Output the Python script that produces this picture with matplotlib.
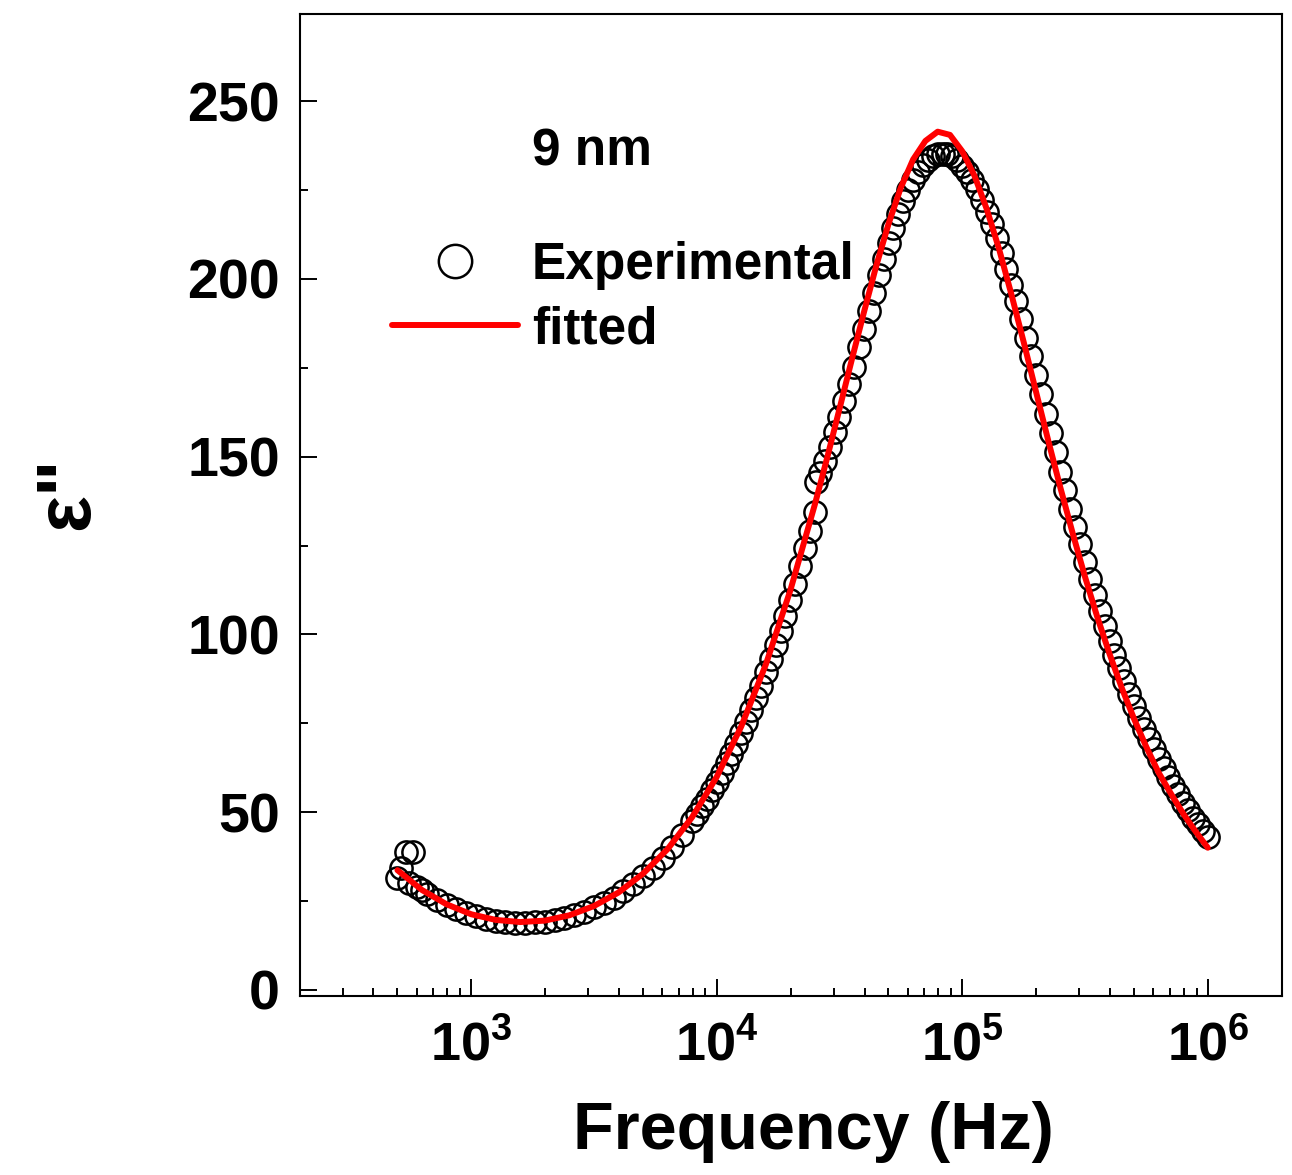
import numpy as np
import matplotlib
matplotlib.use("Agg")
import matplotlib.pyplot as plt
from matplotlib.ticker import FixedLocator, FuncFormatter, LogLocator, MultipleLocator, NullFormatter
from matplotlib.lines import Line2D

plt.rcParams['font.family'] = ['Liberation Sans', 'DejaVu Sans']
plt.rcParams['font.weight'] = 'bold'
plt.rcParams['mathtext.fontset'] = 'custom'
plt.rcParams['mathtext.rm'] = 'Liberation Sans:bold'
plt.rcParams['mathtext.bf'] = 'Liberation Sans:bold'
plt.rcParams['mathtext.it'] = 'Liberation Sans:bold:italic'

# ---------------- data ----------------
exp_freq = [501, 520, 541, 560, 582, 603, 631, 661, 724, 794, 871, 955, 1047, 1148,
            1259, 1380, 1514, 1660, 1820, 1995, 2188, 2399, 2630, 2884, 3162, 3467,
            3802, 4169, 4571, 5012, 5495, 6026, 6607, 7244, 7943, 8318, 8710, 9120,
            9550, 10000, 10471, 10965, 11482, 12023, 12589, 13183, 13804, 14454,
            15136, 15849, 16596, 17378, 18197, 19055, 19953, 20893, 21878, 22909,
            23988, 25119, 25410, 26303, 27542, 28840, 30200, 31623, 33113, 34674,
            36308, 38019, 39811, 41687, 43652, 45709, 47863, 50119, 52481, 54954,
            57544, 60256, 63096, 66069, 69183, 72444, 75858, 79433, 83176, 87096,
            91201, 95499, 100000, 104713, 109648, 114815, 120226, 125893, 131826,
            138038, 144544, 151356, 158489, 165959, 173780, 181970, 190546, 199526,
            208930, 218776, 229087, 239883, 251189, 263027, 275423, 288403, 301995,
            316228, 331131, 346737, 363078, 380189, 398107, 416869, 436516, 457088,
            478630, 501187, 524807, 549541, 575440, 602560, 630957, 660693, 691831,
            724436, 758578, 794328, 831764, 870964, 912011, 954993, 1000000]
exp_eps = [31.5, 34.2, 38.8, 30.2, 38.8, 29.0, 28.0, 27.1, 25.4, 24.0, 22.7, 21.6, 20.8, 20.0,
           19.5, 19.2, 18.9, 18.9, 19.0, 19.2, 19.6, 20.3, 21.0, 22.0, 23.2, 24.4,
           25.9, 27.7, 29.7, 32.0, 34.4, 37.2, 40.3, 43.7, 47.4, 49.4, 51.6, 53.8,
           56.1, 58.5, 61.0, 63.7, 66.4, 69.3, 72.3, 75.4, 78.7, 82.1,
           85.6, 89.3, 93.1, 97.0, 101.1, 105.3, 109.6, 114.1, 119.2, 124.4,
           129.0, 134.5, 143.0, 145.3, 148.9, 152.6, 156.9, 161.2, 165.6, 170.5,
           175.3, 180.7, 186.0, 191.1, 196.1, 201.0, 205.7, 210.2, 214.4, 218.3,
           221.8, 225.0, 227.8, 230.1, 232.1, 233.5, 234.5, 235.0, 235.1, 235.0,
           234.5, 233.4, 231.8, 230.0, 227.8, 225.2, 222.2, 218.9, 215.3,
           211.4, 207.3, 202.9, 198.4, 193.7, 188.7, 183.5, 178.3, 173.0,
           167.6, 162.1, 156.6, 151.2, 145.8, 140.5, 135.3, 130.2, 125.3,
           120.4, 115.7, 111.1, 106.7, 102.4, 98.2, 94.3, 90.5, 86.8,
           83.3, 79.9, 76.6, 73.5, 70.6, 67.7, 65.0, 62.3, 59.8,
           57.3, 55.0, 52.7, 50.6, 48.5, 46.6, 44.7, 43.0]

fit_freq = [501, 631, 794, 1000, 1259, 1585, 1995, 2512, 3162, 3981, 5012, 6310, 7943,
            10000, 12589, 15849, 19953, 25119, 28184, 31623, 35481, 39811, 44668,
            50119, 56234, 63096, 70795, 79433, 89125, 100000, 112202, 125893,
            141254, 158489, 177828, 199526, 223872, 251189, 281838, 316228,
            354813, 398107, 446684, 501187, 562341, 630957, 707946, 794328,
            891251, 1000000]
fit_eps = [33.7, 28.1, 24.1, 21.3, 19.7, 19.1, 19.5, 21.0, 23.6, 27.4, 32.7, 39.6, 48.6,
           59.9, 74.1, 91.5, 112.4, 136.6, 149.7, 163.4, 177.2, 190.7, 203.7,
           215.5, 225.7, 233.6, 238.8, 241.4, 240.5, 235.9, 229.0, 219.6,
           208.4, 195.7, 182.3, 168.4, 154.6, 141.2, 128.4, 116.2,
           104.9, 94.5, 84.9, 76.2, 68.3, 61.1, 55.2, 49.6,
           44.6, 40.0]

x_ticks = [1e3, 1e4, 1e5, 1e6]
legend_labels = ["Experimental", "fitted"]
annotation = "9 nm"
x_label = "Frequency (Hz)"
y_label = 'ε"'

# ---------------- figure ----------------
W, H = 1292, 1175
fig = plt.figure(figsize=(W / 100, H / 100), dpi=100)
L, R, T, B = 299.5, 1281.7, 14, 996
ax = fig.add_axes([L / W, 1 - B / H, (R - L) / W, (B - T) / H])

ax.plot(exp_freq, exp_eps, linestyle='none', marker='o', ms=16, mfc='none',
        mec='black', mew=1.8, zorder=2)
ax.plot(fit_freq, fit_eps, '-', color='#ff0000', lw=4.3, zorder=3,
        solid_capstyle='round', solid_joinstyle='round')

ax.set_xscale('log')
ax.set_xlim(200, 2e6)
ax.set_ylim(-1.7, 274.5)

ax.xaxis.set_major_locator(FixedLocator(x_ticks))
ax.xaxis.set_major_formatter(FuncFormatter(lambda v, p: r'$\mathbf{10^{%d}}$' % round(np.log10(v))))
ax.xaxis.set_minor_locator(LogLocator(base=10, subs=range(2, 10), numticks=20))
ax.xaxis.set_minor_formatter(NullFormatter())
ax.yaxis.set_major_locator(MultipleLocator(50))
ax.yaxis.set_minor_locator(MultipleLocator(25))

ax.tick_params(which='both', direction='in', top=False, right=False, width=1.4)
ax.tick_params(which='major', length=12)
ax.tick_params(which='minor', length=6)
ax.tick_params(axis='x', which='major', labelsize=39, pad=17)
ax.tick_params(axis='y', which='major', labelsize=40, pad=14)
for lab in ax.get_yticklabels():
    lab.set_fontweight('bold')
for sp in ax.spines.values():
    sp.set_linewidth(1.5)

fig.text(813 / W, 1 - 1132 / H, x_label, fontsize=48, fontweight='bold',
         ha='center', va='center')
fig.text(68 / W, 1 - 493 / H, y_label, fontsize=56, fontweight='bold',
         rotation=90, ha='center', va='center')
fig.text(532 / W, 1 - 152 / H, annotation, fontsize=37, fontweight='bold',
         ha='left', va='center')

handles = [Line2D([], [], linestyle='none', marker='o', ms=16, mfc='none', mec='black', mew=1.8),
           Line2D([], [], color='#ff0000', lw=4.3, solid_capstyle='round')]
leg = ax.legend(handles, legend_labels, loc='upper left',
                bbox_to_anchor=(392 / W, 1 - 241 / H), bbox_transform=fig.transFigure,
                frameon=False, borderpad=0, borderaxespad=0, handlelength=2.45,
                handletextpad=0.27, labelspacing=0.3, markerscale=1.5,
                prop={'size': 37, 'weight': 'bold'})

fig.savefig('out.png', dpi=100)
